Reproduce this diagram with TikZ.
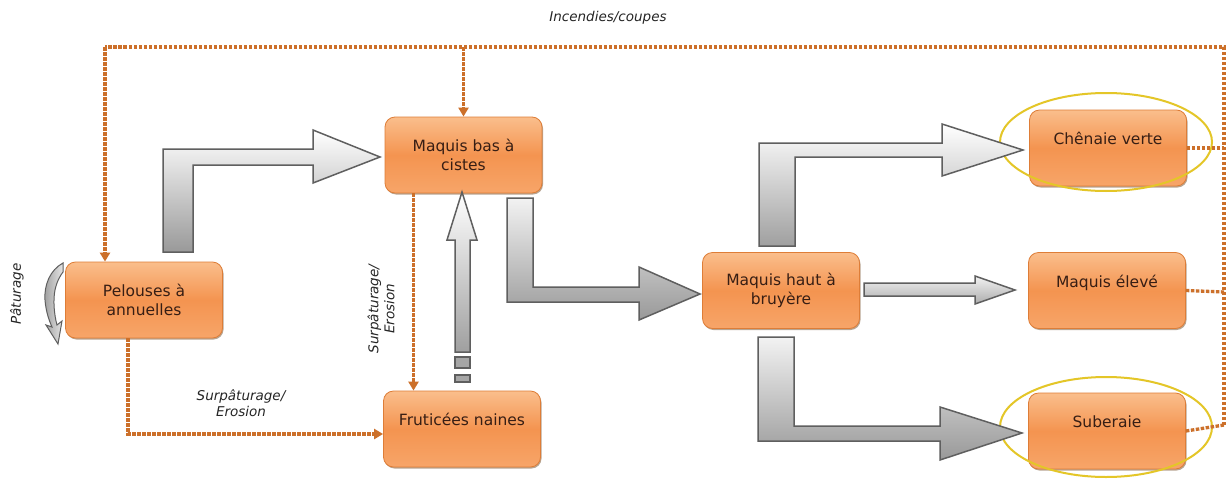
\documentclass[tikz,border=0pt]{standalone}
\usepackage{fontspec}
\setmainfont{DejaVu Sans}
\usetikzlibrary{arrows.meta,shadows,calc}
\definecolor{boxtop}{RGB}{250,190,140}
\definecolor{boxmid}{RGB}{244,148,80}
\definecolor{boxbot}{RGB}{247,165,105}
\definecolor{boxedge}{RGB}{222,125,55}
\definecolor{boxtext}{RGB}{55,30,20}
\definecolor{dotcol}{RGB}{204,112,42}
\definecolor{ellcol}{RGB}{228,198,40}
\definecolor{arredge}{RGB}{95,95,95}
\tikzset{
  stage/.style={rounded corners=10pt, draw=boxedge, line width=0.8pt,
    top color=boxtop, bottom color=boxbot, middle color=boxmid,
    minimum width=157pt, minimum height=76pt, align=center,
    text=boxtext, font=\fontsize{15.5}{19}\selectfont,
    drop shadow={shadow xshift=1pt, shadow yshift=-1.5pt, fill=brown!60!black, opacity=0.5}},
  dotline/.style={draw=dotcol, line width=3.3pt, dash pattern=on 3.5pt off 1.5pt},
  dottip/.style={-{Triangle[width=10pt,length=9pt]}},
  blockarrow/.style={draw=arredge, line width=1.5pt, line join=miter},
  ring/.style={draw=ellcol, line width=2pt},
  note/.style={font=\itshape\fontsize{13.5}{16}\selectfont, text=black!85, align=center}
}
\begin{document}
\begin{tikzpicture}[x=1pt,y=-1pt]
\useasboundingbox (0,0) rectangle (1231,479);
\fill[white] (0,0) rectangle (1231,479);

% nodes
\node[stage] (P)  at (144,300)   {Pelouses à\\annuelles};
\node[stage] (MB) at (463.5,155) {Maquis bas à\\cistes};
\node[stage] (F)  at (462,429)   {Fruticées naines\\~};
\node[stage] (MH) at (781,290.5) {Maquis haut à\\bruyère};
\node[stage] (C)  at (1108,148)  {Chênaie verte\\~};
\node[stage] (ME) at (1107,290.5){Maquis élevé\\~};
\node[stage] (S)  at (1107,431)  {Suberaie\\~};

% yellow rings
\draw[ring] (1106,142) ellipse [x radius=106, y radius=49];
\draw[ring] (1106,427) ellipse [x radius=106, y radius=50];

% block arrows
\draw[blockarrow, top color=white, bottom color=gray!80]
  (163,252) -- (163,149) -- (313,149) -- (313,130) -- (380,157) -- (313,183) -- (313,165) -- (193,165) -- (193,252) -- cycle;
\draw[blockarrow, top color=white, bottom color=gray!75]
  (455,352) -- (455,240) -- (447,240) -- (462,192) -- (477,240) -- (470,240) -- (470,352) -- cycle;
\draw[blockarrow, fill=gray!70] (455,357) rectangle (470,368);
\draw[blockarrow, fill=gray!70] (455,375) rectangle (470,382);
\draw[blockarrow, top color=gray!10, bottom color=gray!80]
  (507,198) -- (507,302) -- (639,302) -- (639,320) -- (700,294) -- (639,267) -- (639,287) -- (533,287) -- (533,198) -- cycle;
\draw[blockarrow, top color=white, bottom color=gray!75]
  (759,246) -- (759,143) -- (942,143) -- (942,124) -- (1023,150) -- (942,176) -- (942,157) -- (795,157) -- (795,246) -- cycle;
\draw[blockarrow, top color=gray!10, bottom color=gray!65]
  (864,283) -- (975,283) -- (975,276) -- (1015,290) -- (975,304) -- (975,296) -- (864,296) -- cycle;
\draw[blockarrow, top color=gray!10, bottom color=gray!80]
  (758,337) -- (758,441) -- (940,441) -- (940,460) -- (1022,433) -- (940,407) -- (940,426) -- (794,426) -- (794,337) -- cycle;

% grazing loop arrow
\draw[draw=arredge, line width=1pt, left color=gray!75, right color=gray!20]
  (63,263) .. controls (50,270) and (44,285) .. (45,300)
  .. controls (46,312) and (49,320) .. (52,327) -- (46,325) -- (58,344) -- (62,321) -- (57,325)
  .. controls (54,314) and (53,300) .. (55,290)
  .. controls (57,281) and (60,276) .. (63,272) -- cycle;

% dotted connectors
\coordinate (tl) at (105,47);
\coordinate (tr) at (1224,47);
\coordinate (rC) at (1224,148);
\coordinate (rME) at (1224,292);
\coordinate (rS) at (1224,425);
\draw[dotline] (C.east) -- (rC);
\draw[dotline] (ME.east) -- (rME);
\draw[dotline] (S.east) -- (rS);
\draw[dotline] (rS) -- (tr) -- (tl);
\draw[dotline, dottip] (tl) -- (tl |- P.north);
\draw[dotline, dottip] (MB.north |- tl) -- (MB.north);
\draw[dotline, dottip] ([xshift=-16pt]P.south) |- ([yshift=-5pt]F.west);
\draw[dotline, dottip] ([xshift=-50pt]MB.south) -- ([xshift=-50pt]MB.south |- F.north);

% labels
\node[note] (lInc) at (608,18) {Incendies/coupes};
\node[note] (lSur) at (241,403) {Surpâturage/\\Erosion};
\node[note, rotate=90] (lSur2) at (381,309) {Surpâturage/\\Erosion};
\node[note, rotate=90] (lPat) at (17,294) {Pâturage};
\end{tikzpicture}
\end{document}
